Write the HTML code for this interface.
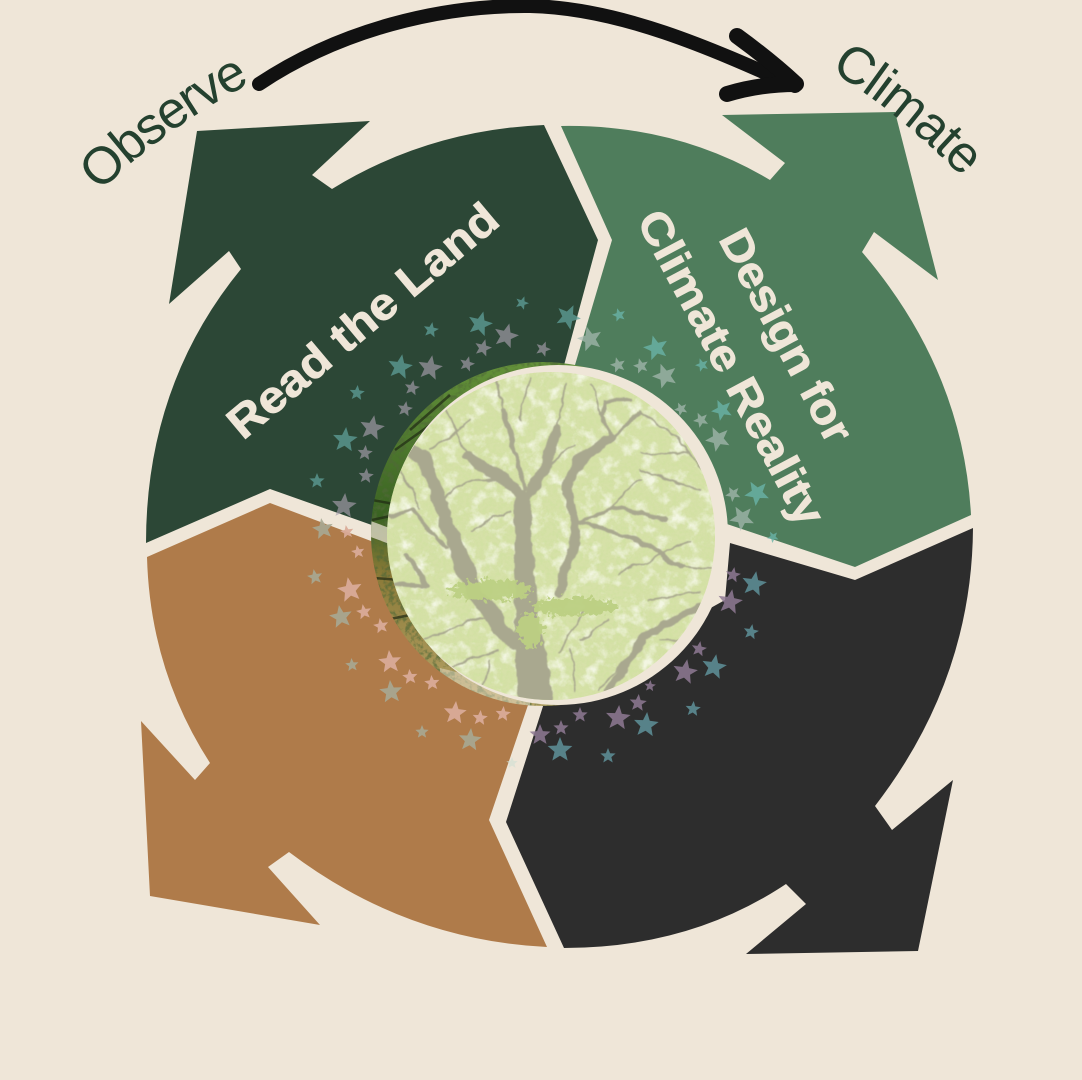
<!DOCTYPE html>
<html lang="en">
<head>
<meta charset="utf-8">
<title>Read the Land / Design for Climate Reality</title>
<style>
html,body{margin:0;padding:0;background:#efe6d8}
svg{display:block}
text{font-family:"Liberation Sans",sans-serif}
.lab{fill:#efe6d8;font-weight:bold;stroke:#efe6d8;stroke-width:.7}
.sm{fill:#24412f;font-size:52px}
</style>
</head>
<body>
<svg width="1082" height="1080" viewBox="0 0 1082 1080" xmlns="http://www.w3.org/2000/svg">
<defs>
<polygon id="s" points="0,-1 .26,-.35 .95,-.31 .42,.14 .59,.81 0,.44 -.59,.81 -.42,.14 -.95,-.31 -.26,-.35"/>
<clipPath id="cRing"><circle cx="543" cy="534" r="172"/></clipPath>
<clipPath id="cTree"><circle cx="551" cy="536" r="164"/></clipPath>
<linearGradient id="ringG" x1="0" y1="0" x2="0" y2="1">
<stop offset="0" stop-color="#64913a"/><stop offset=".45" stop-color="#3a6322"/><stop offset=".62" stop-color="#8b7a38"/><stop offset="1" stop-color="#b7a468"/>
</linearGradient>
<filter id="blot" x="0" y="0" width="100%" height="100%">
<feTurbulence type="fractalNoise" baseFrequency=".07" numOctaves="4" seed="7"/>
<feColorMatrix values="0 0 0 0 1  0 0 0 0 1  0 0 0 0 .97  3 0 0 0 -1.45"/>
</filter>
<filter id="leaf" x="0" y="0" width="100%" height="100%">
<feTurbulence type="fractalNoise" baseFrequency=".3" numOctaves="3" seed="3"/>
<feColorMatrix values="0 0 0 0 .64  0 0 0 0 .75  0 0 0 0 .36  0 3.5 0 0 -1.4"/>
</filter>
<filter id="ringTex" x="0" y="0" width="100%" height="100%">
<feTurbulence type="fractalNoise" baseFrequency=".18" numOctaves="3" seed="5"/>
<feColorMatrix values="0 0 0 0 .08  0 0 0 0 .14  0 0 0 0 .04  4 0 0 0 -1.8"/>
</filter>
<filter id="gnarl" x="-5%" y="-5%" width="110%" height="110%">
<feTurbulence type="fractalNoise" baseFrequency=".05" numOctaves="3" seed="11" result="n"/>
<feDisplacementMap in="SourceGraphic" in2="n" scale="9" xChannelSelector="R" yChannelSelector="G"/>
<feGaussianBlur stdDeviation=".5"/>
</filter>
<filter id="clump" x="-15%" y="-15%" width="130%" height="130%">
<feTurbulence type="fractalNoise" baseFrequency=".2" numOctaves="2" seed="2" result="n"/>
<feDisplacementMap in="SourceGraphic" in2="n" scale="16" xChannelSelector="R" yChannelSelector="G"/>
</filter>
</defs>

<rect width="1082" height="1080" fill="#efe6d8"/>

<!-- dark green arrow -->
<path fill="#2c4736" d="M544 125 Q428 130 332 189 L312 175 L370 121 L197 131 L169 304 L229 251 L241 269 Q146 385 146 543 L270 489 L400 535 L560 380 L598 240 Z"/>
<!-- mid green arrow -->
<path fill="#4f7d5c" d="M561 126 Q676 124 770 180 L785 163 L722 115 L895 112 L938 280 L874 232 L862 252 Q963 370 971 515 L855 567 L700 515 L575 365 L612 240 Z"/>
<!-- black arrow -->
<path fill="#2d2d2d" d="M973 528 Q972 680 875 806 L892 830 L953 780 L918 951 L746 954 L806 904 L786 884 Q690 948 564 948 L506 822 L545 700 L725 600 L730 543 L855 580 Z"/>
<!-- brown arrow -->
<path fill="#af7b4a" d="M147 557 L270 503 L395 550 L528 705 L489 820 L547 947 Q405 940 289 852 L268 867 L320 925 L150 896 L141 721 L195 780 L210 763 Q150 670 147 557 Z"/>

<!-- stars: dark green quadrant -->
<g fill="#5f9f9a" fill-opacity=".75">
<use href="#s" transform="translate(522 303) rotate(20) scale(7)"/>
<use href="#s" transform="translate(480 324) rotate(15) scale(13)"/>
<use href="#s" transform="translate(431 330) rotate(10) scale(8)"/>
<use href="#s" transform="translate(400 367) rotate(10) scale(13)"/>
<use href="#s" transform="translate(357 393) rotate(5) scale(8)"/>
<use href="#s" transform="translate(345 440) rotate(5) scale(13)"/>
<use href="#s" transform="translate(317 481) rotate(0) scale(8)"/>
<use href="#s" transform="translate(568 317) rotate(25) scale(13)"/>
</g>
<g fill="#a8a0ad" fill-opacity=".65">
<use href="#s" transform="translate(506 336) rotate(15) scale(13)"/>
<use href="#s" transform="translate(483 348) rotate(15) scale(9)"/>
<use href="#s" transform="translate(543 349) rotate(20) scale(8)"/>
<use href="#s" transform="translate(430 368) rotate(10) scale(13)"/>
<use href="#s" transform="translate(467 364) rotate(15) scale(8)"/>
<use href="#s" transform="translate(412 388) rotate(10) scale(8)"/>
<use href="#s" transform="translate(405 409) rotate(10) scale(8)"/>
<use href="#s" transform="translate(372 428) rotate(10) scale(13)"/>
<use href="#s" transform="translate(365 453) rotate(5) scale(8)"/>
<use href="#s" transform="translate(366 476) rotate(5) scale(8)"/>
<use href="#s" transform="translate(344 506) rotate(5) scale(13)"/>
</g>
<!-- stars: green quadrant -->
<g fill="#69b3a8" fill-opacity=".8">
<use href="#s" transform="translate(619 315) rotate(-15) scale(7)"/>
<use href="#s" transform="translate(656 348) rotate(-15) scale(13)"/>
<use href="#s" transform="translate(702 365) rotate(-20) scale(7)"/>
<use href="#s" transform="translate(722 410) rotate(-25) scale(11)"/>
<use href="#s" transform="translate(757 493) rotate(-30) scale(13)"/>
<use href="#s" transform="translate(773 537) rotate(-30) scale(6)"/>
</g>
<g fill="#a9bcb4" fill-opacity=".7">
<use href="#s" transform="translate(590 339) rotate(-15) scale(13)"/>
<use href="#s" transform="translate(618 365) rotate(-15) scale(8)"/>
<use href="#s" transform="translate(641 366) rotate(-15) scale(8)"/>
<use href="#s" transform="translate(665 376) rotate(-20) scale(13)"/>
<use href="#s" transform="translate(681 409) rotate(-25) scale(7)"/>
<use href="#s" transform="translate(701 420) rotate(-25) scale(8)"/>
<use href="#s" transform="translate(718 439) rotate(-25) scale(13)"/>
<use href="#s" transform="translate(733 494) rotate(-30) scale(8)"/>
<use href="#s" transform="translate(742 518) rotate(-30) scale(13)"/>
</g>
<!-- stars: black quadrant -->
<g fill="#5f929a" fill-opacity=".85">
<use href="#s" transform="translate(754 584) rotate(10) scale(13)"/>
<use href="#s" transform="translate(751 632) rotate(10) scale(8)"/>
<use href="#s" transform="translate(714 667) rotate(10) scale(13)"/>
<use href="#s" transform="translate(693 709) rotate(5) scale(8)"/>
<use href="#s" transform="translate(646 725) rotate(5) scale(13)"/>
<use href="#s" transform="translate(560 750) rotate(0) scale(13)"/>
<use href="#s" transform="translate(608 756) rotate(0) scale(8)"/>
</g>
<g fill="#8f7a94" fill-opacity=".85">
<use href="#s" transform="translate(733 575) rotate(10) scale(8)"/>
<use href="#s" transform="translate(730 602) rotate(10) scale(13)"/>
<use href="#s" transform="translate(699 649) rotate(10) scale(8)"/>
<use href="#s" transform="translate(685 672) rotate(10) scale(13)"/>
<use href="#s" transform="translate(650 686) rotate(5) scale(6)"/>
<use href="#s" transform="translate(638 703) rotate(5) scale(9)"/>
<use href="#s" transform="translate(618 718) rotate(5) scale(13)"/>
<use href="#s" transform="translate(580 715) rotate(0) scale(8)"/>
<use href="#s" transform="translate(561 728) rotate(0) scale(8)"/>
<use href="#s" transform="translate(540 735) rotate(0) scale(11)"/>
</g>
<!-- stars: brown quadrant -->
<g fill="#a7a893" fill-opacity=".9">
<use href="#s" transform="translate(323 529) rotate(-10) scale(11)"/>
<use href="#s" transform="translate(315 577) rotate(-10) scale(8)"/>
<use href="#s" transform="translate(341 617) rotate(-10) scale(12)"/>
<use href="#s" transform="translate(352 665) rotate(-5) scale(7)"/>
<use href="#s" transform="translate(391 692) rotate(-5) scale(12)"/>
<use href="#s" transform="translate(422 732) rotate(0) scale(7)"/>
<use href="#s" transform="translate(470 740) rotate(5) scale(12)"/>
</g>
<g fill="#d9ab98" fill-opacity=".95">
<use href="#s" transform="translate(347 532) rotate(-10) scale(7)"/>
<use href="#s" transform="translate(358 552) rotate(-10) scale(7)"/>
<use href="#s" transform="translate(350 590) rotate(-10) scale(13)"/>
<use href="#s" transform="translate(364 612) rotate(-10) scale(8)"/>
<use href="#s" transform="translate(381 626) rotate(-10) scale(8)"/>
<use href="#s" transform="translate(390 662) rotate(-5) scale(12)"/>
<use href="#s" transform="translate(410 677) rotate(-5) scale(8)"/>
<use href="#s" transform="translate(432 683) rotate(-5) scale(8)"/>
<use href="#s" transform="translate(455 713) rotate(5) scale(12)"/>
<use href="#s" transform="translate(480 718) rotate(5) scale(8)"/>
<use href="#s" transform="translate(503 714) rotate(5) scale(8)"/>
</g>
<use href="#s" fill="#cfe0d4" fill-opacity=".6" transform="translate(512 763) scale(6)"/>

<!-- darker photo ring -->
<circle cx="543" cy="534" r="172" fill="url(#ringG)"/>
<g clip-path="url(#cRing)">
<rect x="365" y="355" width="200" height="360" filter="url(#ringTex)" opacity=".65"/>
<path fill="none" stroke="#1f2a14" stroke-width="2.5" opacity=".7" d="M372 500 L400 505 M372 520 L395 515 M374 578 L400 580 M385 620 L410 615 M395 450 L430 425 M410 430 L450 395"/>
<path fill="#efe6d8" opacity=".7" d="M368 520 L395 530 L395 546 L368 536 Z"/>
<path fill="#efe6d8" opacity=".45" d="M440 668 L530 690 L530 712 L440 712 Z"/>
</g>
<!-- cream disc -->
<circle cx="558" cy="535" r="170" fill="#efe6d8"/>
<!-- pale tree -->
<g clip-path="url(#cTree)">
<rect x="380" y="365" width="345" height="345" fill="#d6e1a8"/>
<rect x="380" y="365" width="345" height="345" filter="url(#leaf)" opacity=".8"/>
<rect x="380" y="365" width="345" height="345" filter="url(#blot)" opacity=".7"/>
<g fill="none" stroke="#a9a88f" stroke-linecap="round" stroke-linejoin="round" filter="url(#gnarl)">
<path stroke-width="32" d="M538 710 L528 640"/>
<path stroke-width="22" d="M528 640 L524 560"/>
<path stroke-width="17" d="M524 560 L522 497"/>
<path stroke-width="11" d="M522 497 L500 477 L467 457"/>
<path stroke-width="9" d="M527 497 L547 463 L557 430"/>
<path stroke-width="5" d="M525 487 L513 447 L503 407"/>
<path stroke-width="9" d="M558 593 L577 533 L567 490 L577 463 L610 437"/>
<path stroke-width="3.5" d="M610 437 L640 413 M610 437 L600 413 L607 400 L630 400"/>
<path stroke-width="16" d="M513 643 L473 590 L447 523"/>
<path stroke-width="13" d="M447 523 L423 457 L410 450"/>
<path stroke-width="4.5" d="M577 523 L633 537 L683 567"/>
<path stroke-width="3.5" d="M580 523 L610 507 L667 520"/>
<path stroke-width="8" d="M610 690 L643 637 L697 607"/>
<path stroke-width="5" d="M390 583 L427 587 L407 553"/>
<path stroke-width="3.5" d="M390 517 L413 510 L447 550"/>
<path stroke-width="1.8" d="M503 407 L495 375 M467 457 L450 420 L430 395 M557 430 L565 385 M540 470 L575 445 M640 413 L680 440 L700 470 M420 640 L490 615 M560 650 L585 610 M600 690 L625 660 M683 567 L710 570 M500 480 L470 480 L440 500 M600 413 L590 385 M520 420 L530 380 M640 470 L700 490 M640 450 L690 455 M610 507 L640 480 M650 600 L700 590 M620 575 L690 540 M420 510 L400 470 M430 450 L470 420 M470 530 L510 510 M420 640 L400 620 M440 670 L500 650 M580 640 L610 620 M480 700 L490 660 M575 690 L570 650 M660 640 L700 640"/>
</g>
<g fill="#bcd083" opacity=".95" filter="url(#clump)">
<ellipse cx="490" cy="590" rx="42" ry="10"/>
<ellipse cx="575" cy="607" rx="44" ry="9"/>
<ellipse cx="530" cy="630" rx="13" ry="17"/>
</g>
</g>

<!-- labels -->
<text class="lab" font-size="45" transform="translate(243 441) rotate(-40)" textLength="338" lengthAdjust="spacingAndGlyphs">Read the Land</text>
<text class="lab" font-size="44" transform="translate(718 239) rotate(62)" textLength="235" lengthAdjust="spacingAndGlyphs">Design for</text>
<text class="lab" font-size="44" transform="translate(636 220) rotate(62)" textLength="350" lengthAdjust="spacingAndGlyphs">Climate Reality</text>

<path id="pObs" d="M100 192 Q170 122 272 72" fill="none"/>
<path id="pCli" d="M830 70 Q905 116 985 200" fill="none"/>
<text class="sm" letter-spacing="-1.6"><textPath href="#pObs">Observe</textPath></text>
<text class="sm" letter-spacing="-.8"><textPath href="#pCli">Climate</textPath></text>

<!-- top arrow -->
<path d="M259 84 C340 30 440 5 530 6 C620 8 710 48 795 86" fill="none" stroke="#111" stroke-width="14" stroke-linecap="round"/>
<path d="M737 36 Q770 60 796 84 Q760 84 727 94" fill="none" stroke="#111" stroke-width="16" stroke-linecap="round" stroke-linejoin="round"/>
</svg>
</body>
</html>
